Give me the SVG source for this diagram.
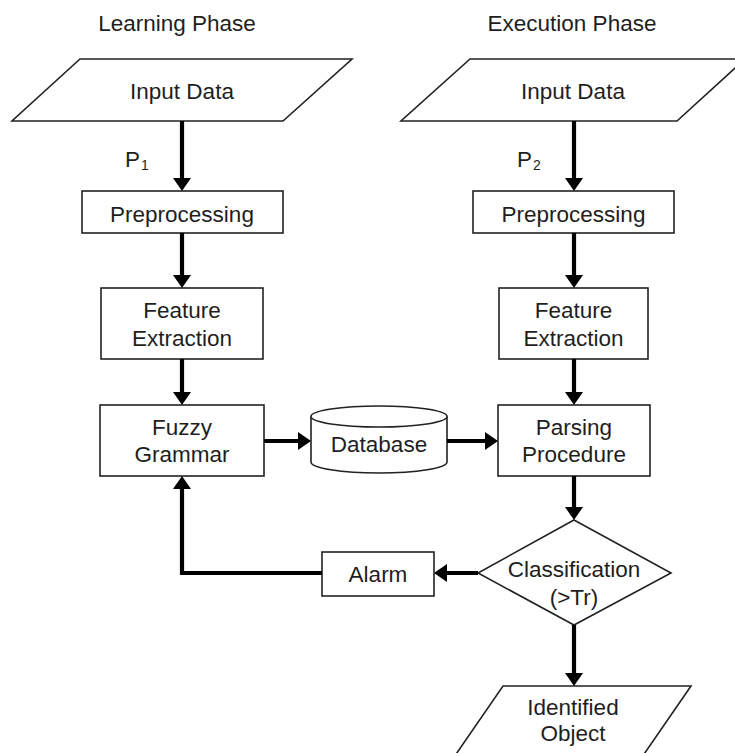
<svg xmlns="http://www.w3.org/2000/svg" width="735" height="753" viewBox="0 0 735 753">
<style>
.shape{fill:#fff;stroke:#222;stroke-width:1.6}
.t{font-family:"Liberation Sans",Arial,sans-serif;font-size:22.5px;fill:#1e1e1e;text-anchor:middle}
.c{fill:none;stroke:#000;stroke-width:4.2;marker-end:url(#ah)}
</style>
<defs>
<marker id="ah" markerUnits="userSpaceOnUse" markerWidth="14" markerHeight="18" refX="2" refY="9" orient="auto">
<path d="M0,0 L13,9 L0,18 Z" fill="#000"/>
</marker>
</defs>
<rect width="735" height="753" fill="#fff"/>
<text class="t" x="177" y="31">Learning Phase</text>
<text class="t" x="572" y="31">Execution Phase</text>

<g id="input1"><polygon class="shape" points="80,59 352,59 283,121 12,121"/><text class="t" x="182" y="99">Input Data</text></g>
<g id="pre1"><rect class="shape" x="82" y="191" width="201" height="42"/><text class="t" x="182" y="222">Preprocessing</text></g>
<g id="fe1"><rect class="shape" x="101" y="288" width="162" height="71"/><text class="t" x="182" y="318">Feature</text><text class="t" x="182" y="346">Extraction</text></g>
<g id="fuzzy"><rect class="shape" x="100" y="405" width="164" height="71"/><text class="t" x="182" y="435">Fuzzy</text><text class="t" x="182" y="462">Grammar</text></g>
<g id="db"><path class="shape" d="M311,416.5 L311,462 A68,11 0 0 0 447,462 L447,416.5"/><ellipse class="shape" cx="379" cy="416.5" rx="68" ry="10.5"/><text class="t" x="379" y="452">Database</text></g>

<g id="input2"><polygon class="shape" points="470,59 745,59 677,121 401,121"/><text class="t" x="573" y="99">Input Data</text></g>
<g id="pre2"><rect class="shape" x="473" y="191" width="201" height="42"/><text class="t" x="573.5" y="222">Preprocessing</text></g>
<g id="fe2"><rect class="shape" x="499" y="288" width="149" height="71"/><text class="t" x="573.5" y="318">Feature</text><text class="t" x="573.5" y="346">Extraction</text></g>
<g id="parse"><rect class="shape" x="498" y="405" width="152" height="71"/><text class="t" x="574" y="435">Parsing</text><text class="t" x="574" y="462">Procedure</text></g>
<g id="classify"><polygon class="shape" points="574,520 671,573 574,625 478,573"/><text class="t" x="574" y="577">Classification</text><text class="t" x="574" y="605">(&gt;Tr)</text></g>
<g id="alarm"><rect class="shape" x="322" y="552" width="112" height="44"/><text class="t" x="378" y="582">Alarm</text></g>
<g id="output"><polygon class="shape" points="503,686 691,686 640,760 452,760"/><text class="t" x="573" y="715">Identified</text><text class="t" x="573" y="741">Object</text></g>

<g id="labels">
<text class="t" x="125" y="167" style="text-anchor:start">P<tspan font-size="14" dx="1" dy="3">1</tspan></text>
<text class="t" x="517" y="167" style="text-anchor:start">P<tspan font-size="14" dx="1" dy="3">2</tspan></text>
</g>

<g id="connectors">
<line class="c" x1="182" y1="121" x2="182" y2="180"/>
<line class="c" x1="182" y1="233" x2="182" y2="277"/>
<line class="c" x1="182" y1="359" x2="182" y2="394"/>
<line class="c" x1="264" y1="441" x2="300" y2="441"/>
<line class="c" x1="447" y1="441" x2="487" y2="441"/>
<line class="c" x1="574" y1="121" x2="574" y2="180"/>
<line class="c" x1="574" y1="233" x2="574" y2="277"/>
<line class="c" x1="574" y1="359" x2="574" y2="394"/>
<line class="c" x1="574" y1="476" x2="574" y2="509"/>
<line class="c" x1="574" y1="625" x2="574" y2="675"/>
<line class="c" x1="478" y1="573" x2="445" y2="573"/>
<polyline class="c" points="322,573 182,573 182,487"/>
</g>
</svg>
